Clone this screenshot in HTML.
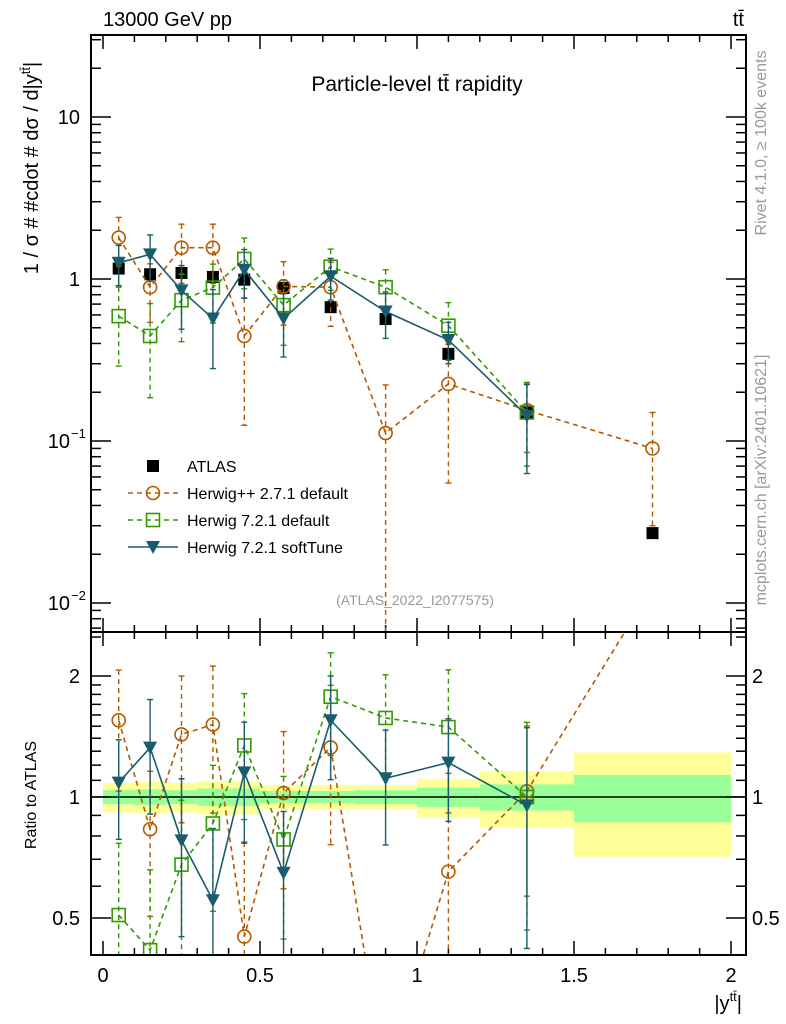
<!DOCTYPE html>
<html><head><meta charset="utf-8"><style>
html,body{margin:0;background:#fff;overflow:hidden;width:786px;height:1024px}
svg{display:block;font-family:"Liberation Sans","DejaVu Sans",sans-serif}
</style></head><body>
<svg id="c" width="786" height="1024" viewBox="0 0 786 1024">
<defs>
<clipPath id="cm"><rect x="91" y="35" width="655" height="597"/></clipPath>
<clipPath id="cr"><rect x="91" y="632" width="655" height="323"/></clipPath>
</defs>
<rect x="0" y="0" width="786" height="1024" fill="#fff"/>
<g id="bands" clip-path="url(#cr)"></g>
<g id="grid"></g>
<g id="series"></g>
<rect x="91" y="35" width="655" height="597" fill="none" stroke="#000" stroke-width="2"/>
<rect x="91" y="632" width="655" height="323" fill="none" stroke="#000" stroke-width="2"/>
<text x="103" y="26" font-size="20">13000 GeV pp</text>
<text x="744" y="26" font-size="20" text-anchor="end">tt̄</text>
<text x="417" y="91" font-size="21" text-anchor="middle">Particle-level tt̄ rapidity</text>
<text transform="translate(38,168) rotate(-90)" font-size="20" text-anchor="middle">1 / σ # #cdot # dσ / d|y<tspan dy="-8" font-size="13">tt̄</tspan><tspan dy="8">|</tspan></text>
<text transform="translate(36,795) rotate(-90)" font-size="16" text-anchor="middle">Ratio to ATLAS</text>
<text transform="translate(766,143) rotate(-90)" font-size="16" fill="#999" text-anchor="middle">Rivet 4.1.0, ≥ 100k events</text>
<text transform="translate(766,480) rotate(-90)" font-size="16" fill="#999" text-anchor="middle">mcplots.cern.ch [arXiv:2401.10621]</text>
<text x="415" y="605" font-size="14" fill="#999" text-anchor="middle">(ATLAS_2022_I2077575)</text>
<text x="742" y="1010" font-size="20" text-anchor="end">|y<tspan dy="-9" font-size="13">tt̄</tspan><tspan dy="9">|</tspan></text>
<g id="legend"></g>
</svg>
<script>
const edges=[0,0.1,0.2,0.3,0.4,0.5,0.65,0.8,1.0,1.2,1.5,2.0];
const xc=[0.05,0.15,0.25,0.35,0.45,0.575,0.725,0.9,1.1,1.35,1.75];
const atlas=[1.16,1.07,1.09,1.03,0.99,0.88,0.67,0.566,0.345,0.15,0.027];
const atlasBandOuter=[0.085,0.09,0.085,0.095,0.095,0.07,0.07,0.07,0.11,0.16,0.29];
const atlasBandInner=[0.04,0.045,0.04,0.05,0.05,0.035,0.035,0.04,0.055,0.075,0.135];
const hpp=[1.8,0.89,1.56,1.56,0.445,0.9,0.89,0.112,0.225,0.155,0.09];
const hppErr=[0.6,0.35,0.62,0.62,0.32,0.38,0.38,0.11,0.17,0.07,0.06];
const h72=[0.59,0.445,0.74,0.885,1.33,0.69,1.19,0.89,0.515,0.15];
const h72Err=[0.3,0.26,0.33,0.35,0.46,0.3,0.34,0.25,0.2,0.08];
const soft=[1.26,1.42,0.85,0.57,1.14,0.57,1.04,0.63,0.42,0.143];
const softErr=[0.35,0.45,0.36,0.29,0.38,0.24,0.3,0.2,0.12,0.08];
const xTicks=[0,0.5,1,1.5,2];
const xTickLabels=["0","0.5","1","1.5","2"];
const yTicks=[-2,-1,0,1];
const yTickLabels=["10","10","1","10"];
const rTicks=[0.5,1,2];
const rTickLabels=["0.5","1","2"];

const NS="http://www.w3.org/2000/svg";
const X=v=>103+v*314;
const Y=v=>279-Math.log10(v)*162;
const R=v=>797-Math.log10(v)*402;
const RMIN=0.405,RMAX=2.57;
function el(tag,attrs,parent){const e=document.createElementNS(NS,tag);for(const k in attrs)e.setAttribute(k,attrs[k]);parent.appendChild(e);return e;}
const gB=document.getElementById('bands'),gG=document.getElementById('grid'),gS=document.getElementById('series'),gL=document.getElementById('legend');

for(let i=0;i<atlas.length;i++){
  const x0=X(edges[i]),x1=X(edges[i+1]);
  const o=atlasBandOuter[i],n=atlasBandInner[i];
  const b1=el('rect',{x:x0,y:R(1+o),width:x1-x0,height:R(1-o)-R(1+o),fill:'#ffff99'},gB);
  
  
  const b2=el('rect',{x:x0,y:R(1+n),width:x1-x0,height:R(1-n)-R(1+n),fill:'#99ff99'},gB);
  
  
}
el('line',{x1:91,x2:746,y1:R(1),y2:R(1),stroke:'#000','stroke-width':1.5},gB);

function tick(x1,y1,x2,y2){el('line',{x1,y1,x2,y2,stroke:'#000','stroke-width':1.5},gG);}
for(let k=0;k<=20;k++){const v=k/10;const x=X(v);const maj=k%5==0;const L=maj?14:7;
  tick(x,632,x,632-L);tick(x,35,x,35+L);tick(x,955,x,955-L);tick(x,632,x,632+L);}
xTicks.forEach((v,i)=>{const t=el('text',{x:X(v),y:982,'font-size':20,'text-anchor':'middle'},gG);t.textContent=xTickLabels[i];
  });
for(let d=-3;d<=1;d++){for(let m=1;m<=9;m++){const v=m*Math.pow(10,d);const y=Y(v);if(y<36||y>631)continue;const L=m==1?20:10;tick(91,y,91+L,y);tick(746,y,746-L,y);}}
yTicks.forEach((d,i)=>{const y=Y(Math.pow(10,d));const t=el('text',{x:d<0?70:80,y:y+7,'font-size':20,'text-anchor':'end'},gG);t.textContent=yTickLabels[i];
  
  if(d<0){const s=el('text',{x:71,y:y-3,'font-size':13},gG);s.textContent=String(d).replace('-','−');}});
[0.5,0.6,0.7,0.8,0.9,1,1.1,1.2,1.3,1.4,1.5,1.6,1.7,1.8,1.9,2,2.5].forEach(v=>{const y=R(v);const maj=[0.5,1,2].includes(v);const L=maj?20:10;tick(91,y,91+L,y);tick(746,y,746-L,y);});
rTicks.forEach((v,i)=>{const y=R(v)+7;
  const t=el('text',{x:80,y,'font-size':20,'text-anchor':'end'},gG);t.textContent=rTickLabels[i];
  
  const t2=el('text',{x:752,y,'font-size':20},gG);t2.textContent=rTickLabels[i];
  });

function marker(g,type,x,y,col){
  if(type=='sq')el('rect',{x:x-6,y:y-6,width:12,height:12,fill:'#000'},g);
  else if(type=='osq')el('rect',{x:x-6.5,y:y-6.5,width:13,height:13,fill:'none',stroke:col,'stroke-width':1.6},g);
  else if(type=='circ')el('circle',{cx:x,cy:y,r:6.5,fill:'none',stroke:col,'stroke-width':1.6},g);
  else if(type=='tri')el('path',{d:`M${x-7},${y-6}L${x+7},${y-6}L${x},${y+7}Z`,fill:col},g);
}
function drawSeries(name,vals,errs,col,dash,type){
  [['main',Y,'url(#cm)',v=>v,e=>e,false],['ratio',R,'url(#cr)',(v,i)=>v/atlas[i],(e,i)=>e/atlas[i],true]].forEach(([panel,F,clip,fv,fe,isR])=>{
    const g=el('g',{'clip-path':clip},gS);
    
    
    const pts=vals.map((v,i)=>[X(xc[i]),F(fv(v,i))]);
    el('polyline',{points:pts.map(p=>p.join(',')).join(' '),fill:'none',stroke:col,'stroke-width':1.6,'stroke-dasharray':dash},g);
    vals.forEach((v,i)=>{const c=fv(v,i),e=fe(errs[i],i);
      if(isR&&(c>RMAX||c<RMIN))return;
      const lo=Math.max(c-e,1e-4);const x=X(xc[i]);
      el('line',{x1:x,x2:x,y1:F(c+e),y2:F(lo),stroke:col,'stroke-width':1.4,'stroke-dasharray':dash},g);
      el('line',{x1:x-3,x2:x+3,y1:F(c+e),y2:F(c+e),stroke:col,'stroke-width':1.4},g);
      el('line',{x1:x-3,x2:x+3,y1:F(lo),y2:F(lo),stroke:col,'stroke-width':1.4},g);
      const m=el('g',{},g);
      
      
      marker(m,type,x,F(c),col);});
  });
}
{const g=el('g',{'clip-path':'url(#cm)'},gS);
 
 
 atlas.forEach((v,i)=>{const m=el('g',{},g);
  
  
  marker(m,'sq',X(xc[i]),Y(v),'#000');});}
drawSeries('herwigpp',hpp,hppErr,'#b35900','5,4','circ');
drawSeries('herwig721-default',h72,h72Err,'#339900','5,4','osq');
drawSeries('herwig721-softtune',soft,softErr,'#1a5c6b','','tri');

const leg=[['ATLAS','#000','','sq'],['Herwig++ 2.7.1 default','#b35900','5,4','circ'],['Herwig 7.2.1 default','#339900','5,4','osq'],['Herwig 7.2.1 softTune','#1a5c6b','','tri']];
leg.forEach((l,i)=>{const y=466+i*27;const g=el('g',{},gL);
  
  
  if(i>0)el('line',{x1:128,x2:178,y1:y,y2:y,stroke:l[1],'stroke-width':1.6,'stroke-dasharray':l[2]},g);
  marker(g,l[3],153,y,l[1]);
  const t=el('text',{x:187,y:y+6,'font-size':16},g);t.textContent=l[0];});
</script>
</body></html>
